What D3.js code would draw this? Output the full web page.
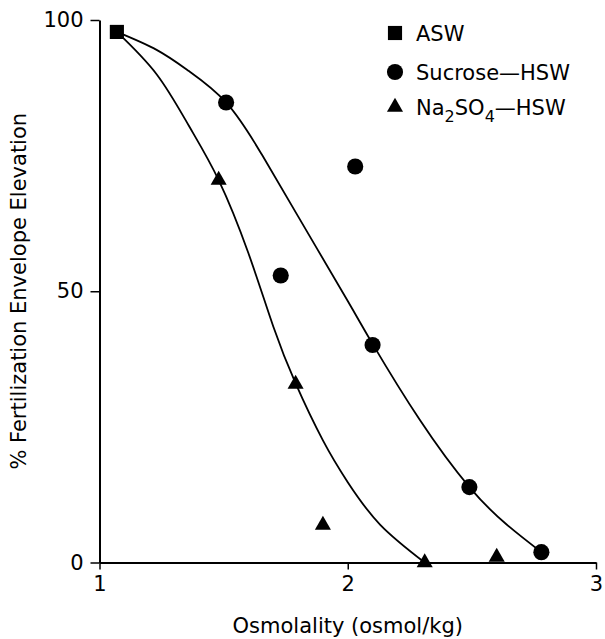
<!DOCTYPE html>
<html>
<head>
<meta charset="utf-8">
<script src="https://cdn.jsdelivr.net/npm/d3@7"></script>
<style>
	body { margin: 0; background: #fff; }
	text { font-family: "DejaVu Sans", sans-serif; fill: #000; }
</style>
</head>
<body>
<svg id="svg-port" width="605" height="639"></svg>
<script>
// measured points
var aswX = [1.07];
var aswY = [97.8];
var sucroseX = [1.51, 1.73, 2.03, 2.10, 2.49, 2.78];
var sucroseY = [84.8, 52.9, 73.0, 40.1, 13.9, 1.9];
var na2so4X = [1.48, 1.79, 1.90, 2.31, 2.60];
var na2so4Y = [70.5, 32.9, 6.9, 0.0, 1.0];

// fitted curves
var sucroseFitX = [1.07, 1.23, 1.36, 1.51, 1.65, 1.80, 2.00, 2.10, 2.29, 2.49, 2.64, 2.78];
var sucroseFitY = [97.8, 94.5, 90.6, 84.8, 75.5, 63.8, 48.2, 40.3, 26.3, 13.9, 7.0, 1.9];
var na2so4FitX = [1.07, 1.23, 1.36, 1.48, 1.60, 1.70, 1.79, 1.90, 2.00, 2.13, 2.31];
var na2so4FitY = [97.8, 90.0, 80.5, 70.5, 57.0, 43.5, 33.0, 22.5, 14.8, 7.0, 0.0];

var xTicks = [1, 2, 3];
var yTicks = [0, 50, 100];

function zip(xs, ys) {
	return xs.map(function (x, i) { return [x, ys[i]]; });
}

function DrawChart() {
	var svg = d3.select('#svg-port');
	var x = d3.scaleLinear().domain([1, 3]).range([99.5, 596]);
	var y = d3.scaleLinear().domain([0, 100]).range([562.5, 20]);

	var xAxis = svg.append('g')
		.attr('transform', 'translate(0,' + y(0) + ')')
		.call(d3.axisBottom(x).tickValues(xTicks).tickFormat(d3.format('d')).tickSize(7).tickPadding(7).tickSizeOuter(0));
	var yAxis = svg.append('g')
		.attr('transform', 'translate(' + x(1) + ',0)')
		.call(d3.axisLeft(y).tickValues(yTicks).tickSize(9).tickPadding(7).tickSizeOuter(0));

	[xAxis, yAxis].forEach(function (ax) {
		ax.select('.domain').attr('stroke', '#000').attr('stroke-width', 2);
		ax.selectAll('.tick line').attr('stroke', '#000').attr('stroke-width', 1.5);
		ax.selectAll('.tick text')
			.attr('fill', '#000')
			.style('font-family', '"DejaVu Sans", sans-serif')
			.style('font-size', '21px');
	});

	svg.append('text')
		.attr('x', x(2))
		.attr('y', 633)
		.attr('text-anchor', 'middle')
		.style('font-size', '21px')
		.text('Osmolality (osmol/kg)');

	svg.append('text')
		.attr('transform', 'translate(26,' + y(50) + ') rotate(-90)')
		.attr('text-anchor', 'middle')
		.style('font-size', '21px')
		.text('% Fertilization Envelope Elevation');

	var line = d3.line()
		.x(function (d) { return x(d[0]); })
		.y(function (d) { return y(d[1]); })
		.curve(d3.curveNatural);

	[zip(sucroseFitX, sucroseFitY), zip(na2so4FitX, na2so4FitY)].forEach(function (pts) {
		svg.append('path')
			.attr('d', line(pts))
			.attr('fill', 'none')
			.attr('stroke', '#000')
			.attr('stroke-width', 1.8);
	});

	var square = d3.symbol().type(d3.symbolSquare).size(200);
	var circle = d3.symbol().type(d3.symbolCircle).size(205);
	var triangle = d3.symbol().type(d3.symbolTriangle).size(112);

	function drawMarks(pts, sym) {
		svg.append('g')
			.selectAll('path')
			.data(pts)
			.enter().append('path')
			.attr('d', sym)
			.attr('fill', '#000')
			.attr('transform', function (d) { return 'translate(' + x(d[0]) + ',' + y(d[1]) + ')'; });
	}
	drawMarks(zip(sucroseX, sucroseY), circle);
	drawMarks(zip(na2so4X, na2so4Y), triangle);
	drawMarks(zip(aswX, aswY), square);

	// legend
	var legend = svg.append('g').attr('transform', 'translate(395,0)');
	legend.append('path').attr('d', square).attr('transform', 'translate(0,33)');
	legend.append('path').attr('d', circle).attr('transform', 'translate(0,72)');
	legend.append('path').attr('d', triangle).attr('transform', 'translate(0,107)');

	legend.append('text').attr('x', 21).attr('y', 41).style('font-size', '21px').text('ASW');
	legend.append('text').attr('x', 21).attr('y', 80).style('font-size', '21px').text('Sucrose\u2014HSW');
	var na = legend.append('text').attr('x', 21).attr('y', 115).style('font-size', '21px');
	na.append('tspan').text('Na');
	na.append('tspan').attr('dy', 7).style('font-size', '16px').text('2');
	na.append('tspan').attr('dy', -7).text('SO');
	na.append('tspan').attr('dy', 7).style('font-size', '16px').text('4');
	na.append('tspan').attr('dy', -7).text('\u2014HSW');
}

DrawChart();
</script>
</body>
</html>
